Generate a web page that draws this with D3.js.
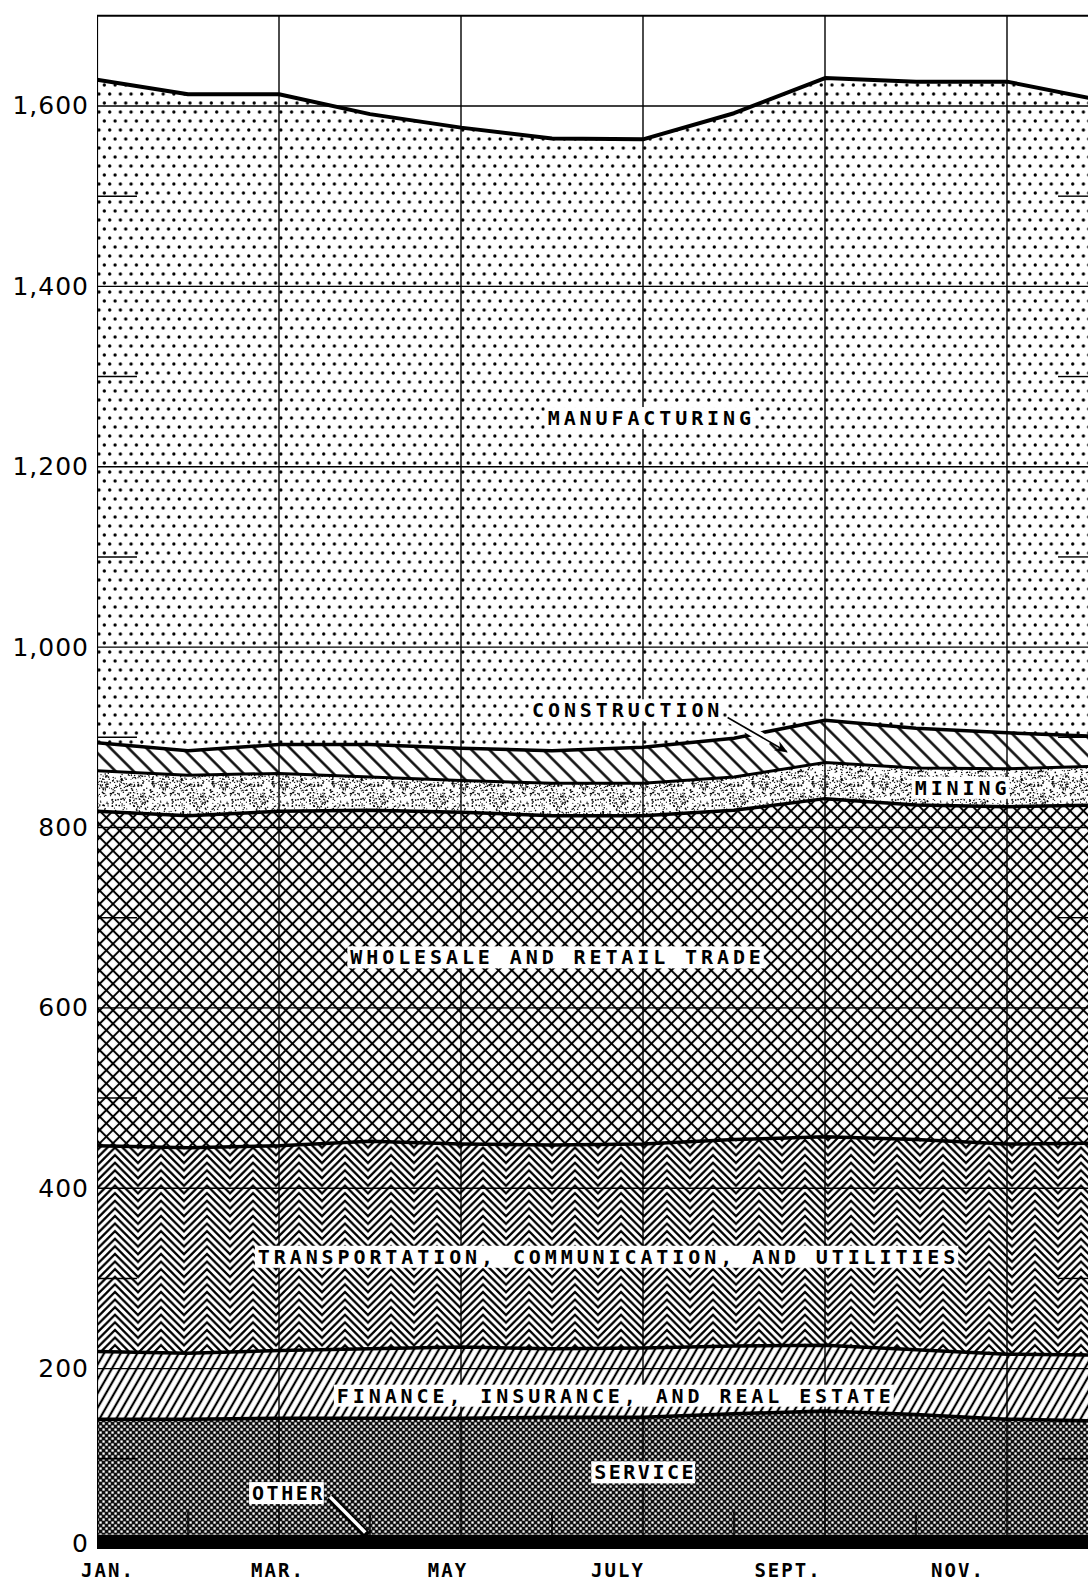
<!DOCTYPE html>
<html><head><meta charset="utf-8">
<script src="https://cdn.jsdelivr.net/npm/d3@7"></script>
<style>
html,body{margin:0;padding:0;background:#fff;}
svg{display:block;}
</style></head><body>
<svg id="chart" width="1088" height="1583"></svg>
<script>
// ---------------- data (thousands of employees, stacked bottom to top) ----------------
const months = ["JAN","FEB","MAR","APR","MAY","JUN","JUL","AUG","SEP","OCT","NOV","DEC"];
const monthLabels = ["JAN.","MAR.","MAY","JULY","SEPT.","NOV."];
const yTickValues = [0,200,400,600,800,1000,1200,1400,1600];
const other          = [16,16,16,16,16,16,16,16,16,16,16,16];
const service        = [128,128,129,129,129,130,130,134,137,133,128,126];
const finance        = [75,73,75,77,79,76,77,75,73,72,72,73];
const transportation = [228,228,227,230,225,226,226,229,231,233,233,235];
const trade          = [371,368,371,367,368,365,364,365,375,371,374,375];
const mining         = [45,45,42,37,35,36,36,37,40,41,42,43];
const construction   = [31,27,32,36,36,36,40,43,47,44,40,33];
const manufacturing  = [735,728,721,699,688,679,674,693,712,717,722,706];
const seriesNames = ["other","service","finance","transportation","trade","mining","construction","manufacturing"];
const seriesLabels = {
  manufacturing:"MANUFACTURING", construction:"CONSTRUCTION", mining:"MINING",
  trade:"WHOLESALE AND RETAIL TRADE", transportation:"TRANSPORTATION, COMMUNICATION, AND UTILITIES",
  finance:"FINANCE, INSURANCE, AND REAL ESTATE", service:"SERVICE", other:"OTHER"
};

// ---------------- setup ----------------
const svg = d3.select("#chart");
const W = 1088, H = 1583;
const x = d3.scaleLinear().domain([0, 11]).range([97, 1098]);
const y = d3.scaleLinear().domain([0, 1700]).range([1549, 15.8]);
const xLab = d3.scaleLinear().domain([0, 10]).range([108, 958]);

const seriesData = {other, service, finance, transportation, trade, mining, construction, manufacturing};
const rows = months.map((m, i) => {
  const r = {month: i};
  seriesNames.forEach(k => r[k] = seriesData[k][i]);
  return r;
});
const stacked = d3.stack().keys(seriesNames)(rows);

// ---------------- patterns ----------------
const defs = svg.append("defs");
defs.append("clipPath").attr("id", "plotClip")
  .append("rect").attr("x", 97).attr("y", 0).attr("width", W - 97).attr("height", 1556);

// manufacturing: staggered dots
const pDots = defs.append("pattern").attr("id", "pDots").attr("patternUnits", "userSpaceOnUse")
  .attr("width", 10.7).attr("height", 18);
pDots.append("rect").attr("width", 10.7).attr("height", 18).attr("fill", "#fff");
pDots.append("circle").attr("cx", 2.7).attr("cy", 4).attr("r", 1.65).attr("fill", "#000");
pDots.append("circle").attr("cx", 8.05).attr("cy", 13).attr("r", 1.65).attr("fill", "#000");

function hatch(id, spacing, angle, sw) {
  const p = defs.append("pattern").attr("id", id).attr("patternUnits", "userSpaceOnUse")
    .attr("width", spacing).attr("height", spacing).attr("patternTransform", `rotate(${angle})`);
  p.append("rect").attr("width", spacing).attr("height", spacing).attr("fill", "#fff");
  p.append("line").attr("x1", spacing / 2).attr("x2", spacing / 2).attr("y1", -1).attr("y2", spacing + 1)
    .attr("stroke", "#000").attr("stroke-width", sw);
  return p;
}
hatch("pCons", 12.7, -45, 2.4);     // construction "\\\\"
hatch("pFin", 7.2, 30, 2.2);        // finance "////"

// trade: diamond cross-hatch
const pX = defs.append("pattern").attr("id", "pTrade").attr("patternUnits", "userSpaceOnUse")
  .attr("width", 9.4).attr("height", 9.4).attr("patternTransform", "rotate(45)");
pX.append("rect").attr("width", 9.4).attr("height", 9.4).attr("fill", "#fff");
pX.append("line").attr("x1", 4.7).attr("x2", 4.7).attr("y1", -1).attr("y2", 10.4).attr("stroke", "#000").attr("stroke-width", 2);
pX.append("line").attr("y1", 4.7).attr("y2", 4.7).attr("x1", -1).attr("x2", 10.4).attr("stroke", "#000").attr("stroke-width", 2);

// transportation: nested chevrons
(function () {
  const Wc = 46, Hc = 7.6, A = Wc / 2;
  const p = defs.append("pattern").attr("id", "pTrans").attr("patternUnits", "userSpaceOnUse")
    .attr("width", Wc).attr("height", Hc);
  p.append("rect").attr("width", Wc).attr("height", Hc).attr("fill", "#fff");
  let d = "";
  for (let k = -5; k <= 2; k++) {
    const b = k * Hc;
    d += `M${-Wc / 2},${b} L0,${b + A} L${Wc / 2},${b} L${Wc},${b + A} L${1.5 * Wc},${b} `;
  }
  p.append("path").attr("d", d).attr("fill", "none").attr("stroke", "#000").attr("stroke-width", 2.3)
    .attr("stroke-linejoin", "miter");
})();

// service: dark halftone
const pS = defs.append("pattern").attr("id", "pSvc").attr("patternUnits", "userSpaceOnUse")
  .attr("width", 6).attr("height", 6);
pS.append("rect").attr("width", 6).attr("height", 6).attr("fill", "#111");
pS.append("rect").attr("x", 0.4).attr("y", 0.4).attr("width", 2.3).attr("height", 2.3).attr("fill", "#fff");
pS.append("rect").attr("x", 3.4).attr("y", 3.4).attr("width", 2.3).attr("height", 2.3).attr("fill", "#fff");

// mining: fine stipple (deterministic texture)
(function () {
  const T = 60;
  const p = defs.append("pattern").attr("id", "pMin").attr("patternUnits", "userSpaceOnUse")
    .attr("width", T).attr("height", T);
  p.append("rect").attr("width", T).attr("height", T).attr("fill", "#fff");
  const h = n => { const s = Math.sin(n * 127.1 + 311.7) * 43758.5453; return s - Math.floor(s); };
  const g = p.append("g").attr("fill", "#000");
  for (let i = 0; i < 480; i++) {
    g.append("circle").attr("cx", h(i * 3 + 1) * T).attr("cy", h(i * 3 + 2) * T).attr("r", 0.55 + 0.35 * h(i * 3 + 3));
  }
})();

const fills = {
  other: "#000", service: "url(#pSvc)", finance: "url(#pFin)", transportation: "url(#pTrans)",
  trade: "url(#pTrade)", mining: "url(#pMin)", construction: "url(#pCons)", manufacturing: "url(#pDots)"
};
const lineW = {service: 3.5, finance: 3.5, transportation: 3.5, trade: 3.5, mining: 3, construction: 3.5, manufacturing: 4};

const plot = svg.append("g").attr("clip-path", "url(#plotClip)");

const area = d3.area().x(d => x(d.data.month)).y0(d => y(d[0])).y1(d => y(d[1]));
plot.selectAll("path.layer").data(stacked).join("path").attr("class", "layer")
  .attr("d", area).attr("fill", d => fills[d.key]);

// ---------------- grid ----------------
const grid = plot.append("g").attr("stroke", "#000");
grid.selectAll("line.h").data(yTickValues.filter(v => v > 0)).join("line").attr("class", "h")
  .attr("x1", 97).attr("x2", W).attr("y1", d => y(d)).attr("y2", d => y(d)).attr("stroke-width", 1.4);
const minorY = d3.range(100, 1700, 200);
grid.selectAll("line.tl").data(minorY).join("line").attr("class", "tl")
  .attr("x1", 97).attr("x2", 137).attr("y1", d => y(d)).attr("y2", d => y(d)).attr("stroke-width", 1.4);
grid.selectAll("line.tr").data(minorY).join("line").attr("class", "tr")
  .attr("x1", 1058).attr("x2", W).attr("y1", d => y(d)).attr("y2", d => y(d)).attr("stroke-width", 1.4);
const majorMonths = d3.range(0, 12, 2);
grid.selectAll("line.v").data(majorMonths).join("line").attr("class", "v")
  .attr("x1", d => x(d)).attr("x2", d => x(d)).attr("y1", y(1700)).attr("y2", y(0))
  .attr("stroke-width", d => d === 0 ? 2.2 : 1.4);
grid.selectAll("line.vm").data(d3.range(1, 12, 2)).join("line").attr("class", "vm")
  .attr("x1", d => x(d)).attr("x2", d => x(d)).attr("y1", y(0) - 37).attr("y2", y(0))
  .attr("stroke-width", 1.4);
grid.append("line").attr("x1", 97).attr("x2", W).attr("y1", y(1700)).attr("y2", y(1700)).attr("stroke-width", 2);

// ---------------- boundary lines ----------------
const line = d3.line().x(d => x(d.data.month)).y(d => y(d[1]));
plot.selectAll("path.edge").data(stacked.filter(s => s.key !== "other")).join("path").attr("class", "edge")
  .attr("d", line).attr("fill", "none").attr("stroke", "#000")
  .attr("stroke-width", d => lineW[d.key]).attr("stroke-linejoin", "round");

// ---------------- labels ----------------
const LF = "DejaVu Sans Mono, Liberation Mono, monospace";
function boxLabel(txt, m, v, opts = {}) {
  const ls = opts.ls ?? 3.9;
  const g = svg.append("g");
  const t = g.append("text").attr("x", x(m) + ls / 2).attr("y", y(v))
    .attr("text-anchor", "middle").attr("dominant-baseline", "central")
    .attr("font-family", LF).attr("font-weight", "bold").attr("font-size", opts.fs ?? 20).attr("letter-spacing", ls)
    .attr("fill", "#000").text(txt);
  const b = t.node().getBBox();
  g.insert("rect", "text").attr("x", b.x - 3).attr("y", b.y + 1).attr("width", b.width + 2)
    .attr("height", b.height - 2).attr("fill", "#fff");
  return g;
}

// construction arrow (drawn first so labels sit above)
const arr = svg.append("g");
defs.append("marker").attr("id", "ah").attr("viewBox", "0 0 10 10").attr("refX", 9).attr("refY", 5)
  .attr("markerWidth", 13).attr("markerHeight", 13).attr("markerUnits", "userSpaceOnUse").attr("orient", "auto")
  .append("path").attr("d", "M0,1 L10,5 L0,9 L3,5 Z").attr("fill", "#000");
const a0 = [x(6.93), y(922)], a1 = [x(7.58), y(884)];
const aMid = [a0[0] + (a1[0] - a0[0]) * 0.72, a0[1] + (a1[1] - a0[1]) * 0.72];
arr.append("line").attr("x1", a0[0]).attr("y1", a0[1]).attr("x2", aMid[0]).attr("y2", aMid[1])
  .attr("stroke", "#fff").attr("stroke-width", 9);
arr.append("line").attr("x1", a0[0]).attr("y1", a0[1]).attr("x2", a1[0]).attr("y2", a1[1])
  .attr("stroke", "#000").attr("stroke-width", 1.6).attr("marker-end", "url(#ah)");

// other arrow (hollow)
const o0 = [x(2.56), y(58)], o1 = [x(2.97), y(15)];
svg.append("line").attr("x1", o0[0]).attr("y1", o0[1]).attr("x2", o1[0]).attr("y2", o1[1])
  .attr("stroke", "#000").attr("stroke-width", 8);
svg.append("line").attr("x1", o0[0]).attr("y1", o0[1]).attr("x2", o1[0] - 2).attr("y2", o1[1] - 3)
  .attr("stroke", "#fff").attr("stroke-width", 3.5);

boxLabel(seriesLabels.manufacturing, 6.07, 1254);
boxLabel(seriesLabels.construction, 5.81, 930);
boxLabel(seriesLabels.mining, 9.49, 844);
boxLabel(seriesLabels.trade, 5.04, 656);
boxLabel(seriesLabels.transportation, 5.6, 324);
boxLabel(seriesLabels.finance, 5.68, 170);
boxLabel(seriesLabels.service, 6.01, 85, {ls: 2.5});
boxLabel(seriesLabels.other, 2.09, 62, {ls: 2.5});

// ---------------- axes text ----------------
const fmt = d3.format(",");
svg.append("g").selectAll("text").data(yTickValues).join("text")
  .attr("x", 89).attr("y", d => y(d) - (d === 0 ? 6 : 0)).attr("text-anchor", "end").attr("dominant-baseline", "central")
  .attr("font-family", "DejaVu Sans, sans-serif").attr("font-size", 25).attr("letter-spacing", 1)
  .attr("fill", "#000").text(d => fmt(d));

svg.append("g").selectAll("text").data(monthLabels).join("text")
  .attr("x", (d, i) => xLab(i * 2)).attr("y", 1577).attr("text-anchor", "middle")
  .attr("font-family", LF).attr("font-weight", "bold").attr("font-size", 19).attr("letter-spacing", 2)
  .attr("fill", "#000").text(d => d);
</script>
</body></html>
